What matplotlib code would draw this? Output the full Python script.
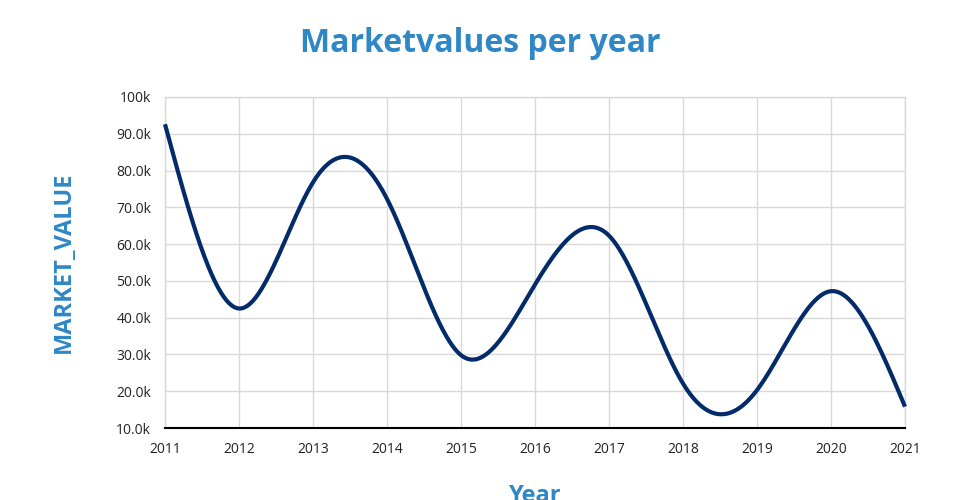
import matplotlib
matplotlib.use("Agg")
import matplotlib.pyplot as plt
import numpy as np
from matplotlib.ticker import FuncFormatter

# values
years = [2011, 2012, 2013, 2014, 2015, 2016, 2017, 2018, 2019, 2020, 2021]
market_values = [92600, 42500, 76800, 72300, 29800, 49000, 62300, 22100, 20300, 47200, 15800]

title_text = "Marketvalues per year"
x_title = "Year"
y_title = "MARKET_VALUE"

blue = "#2f87c6"
navy = "#032b69"
grid_col = "#d9d9d9"

plt.rcParams['font.family'] = ['Open Sans', 'DejaVu Sans']


def natural_spline(x, y, n=600):
    # smooth curve through the points (natural cubic spline)
    x = np.asarray(x, float)
    y = np.asarray(y, float)
    k = len(x)
    h = np.diff(x)
    A = np.zeros((k, k))
    b = np.zeros(k)
    A[0, 0] = A[-1, -1] = 1
    for i in range(1, k - 1):
        A[i, i - 1] = h[i - 1]
        A[i, i] = 2 * (h[i - 1] + h[i])
        A[i, i + 1] = h[i]
        b[i] = 6 * ((y[i + 1] - y[i]) / h[i] - (y[i] - y[i - 1]) / h[i - 1])
    m = np.linalg.solve(A, b)
    xs = np.linspace(x[0], x[-1], n)
    idx = np.clip(np.searchsorted(x, xs) - 1, 0, k - 2)
    x0, x1 = x[idx], x[idx + 1]
    hh = x1 - x0
    t0, t1 = x1 - xs, xs - x0
    ys = (m[idx] * t0 ** 3 / (6 * hh) + m[idx + 1] * t1 ** 3 / (6 * hh)
          + (y[idx] / hh - m[idx] * hh / 6) * t0
          + (y[idx + 1] / hh - m[idx + 1] * hh / 6) * t1)
    return xs, ys


fig = plt.figure(figsize=(9.6, 5), dpi=100)
ax = fig.add_axes([165 / 960, 1 - 428 / 500, 740 / 960, 331 / 500])

xs, ys = natural_spline(years, market_values)
ax.plot(xs, ys, color=navy, lw=3, solid_capstyle='butt', clip_on=False, zorder=3)

ax.set_xlim(2011, 2021)
ax.set_ylim(10000, 100000)
ax.set_xticks(years)
ax.set_yticks(np.arange(10000, 100001, 10000))
ax.yaxis.set_major_formatter(FuncFormatter(
    lambda v, p: f"{v / 1000:.0f}k" if v >= 100000 else f"{v / 1000:.1f}k"))

ax.grid(True, color=grid_col, lw=1)
ax.set_axisbelow(True)
for s in ['top', 'right', 'left']:
    ax.spines[s].set_color(grid_col)
    ax.spines[s].set_linewidth(1)
ax.spines['bottom'].set_color('black')
ax.spines['bottom'].set_linewidth(1.5)
ax.tick_params(length=0, labelsize=10, colors='#222222')
ax.tick_params(axis='x', pad=10)
ax.tick_params(axis='y', pad=10)

fig.text(0.5, 1 - 44 / 500, title_text, ha='center', va='center',
         fontsize=23, fontweight='bold', color=blue)
fig.text(64 / 960, 1 - 262 / 500, y_title, ha='center', va='center', rotation=90,
         fontsize=17, fontweight='bold', color=blue)
fig.text(535 / 960, 1 - 484 / 500, x_title, ha='center', va='top',
         fontsize=17, fontweight='bold', color=blue)

fig.savefig("out.png", dpi=100)
